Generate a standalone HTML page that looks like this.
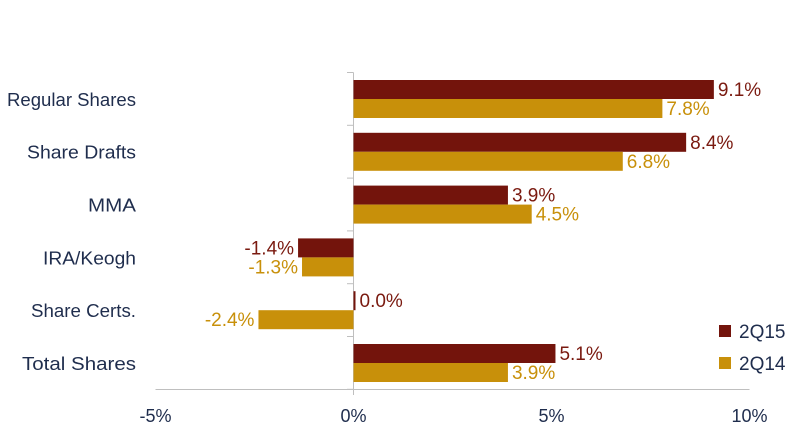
<!DOCTYPE html>
<html><head><meta charset="utf-8"><style>
body{margin:0;background:#fff;}
svg{display:block;font-family:"Liberation Sans",sans-serif;}
</style></head><body>
<svg id="chart" width="800" height="435" xmlns="http://www.w3.org/2000/svg"></svg>
<script>
const categories=["Regular Shares","Share Drafts","MMA","IRA/Keogh","Share Certs.","Total Shares"];
const series2Q15=[9.1,8.4,3.9,-1.4,0.0,5.1];
const series2Q14=[7.8,6.8,4.5,-1.3,-2.4,3.9];
const xTicks=[-5,0,5,10];
const xTickLabels=["-5%","0%","5%","10%"];
const svg=document.getElementById('chart');
const NS="http://www.w3.org/2000/svg";
const x=v=>353.5+v*39.6;
const top0=72.5,band=52.8;
function mk(t,a,txt){const e=document.createElementNS(NS,t);for(const k in a)e.setAttribute(k,a[k]);if(txt!==undefined)e.textContent=txt;svg.appendChild(e);return e;}
let e;
e=mk('line',{x1:x(-5),x2:x(10),y1:389.5,y2:389.5,stroke:'#bfbfbf','stroke-width':1});

e=mk('line',{x1:353.5,x2:353.5,y1:top0,y2:395,stroke:'#bfbfbf','stroke-width':1});

for(let i=0;i<=categories.length;i++){
 e=mk('line',{x1:347,x2:353.5,y1:top0+i*band,y2:top0+i*band,stroke:'#bfbfbf','stroke-width':1});
 
}
xTicks.forEach((t,i)=>{
 e=mk('text',{x:x(t),y:422,'text-anchor':'middle','font-size':18,fill:'#1f2d4d'},xTickLabels[i]);
 
});
const fmt=v=>v.toFixed(1)+'%';
categories.forEach((c,i)=>{
 const y0=top0+i*band;
 e=mk('text',{x:136,y:y0+band/2+7,'text-anchor':'end','font-size':18,fill:'#1f2d4d','textLength':[129,109,48,93,105,114][i],'lengthAdjust':'spacingAndGlyphs'},c);
 
 [[series2Q15[i],'#73140c','#7a1a10',7.5,'bar-2q15'],[series2Q14[i],'#c8900a','#c8900a',26.5,'bar-2q14']].forEach(([v,col,tc,off,nm])=>{
  const xa=Math.min(x(0),x(v)),w=Math.max(Math.abs(x(v)-x(0)),v===0?2:0);
  e=mk('rect',{x:xa,y:y0+off,width:w,height:19,fill:col});
  
  const lx=v>=0?x(v)+(v===0?6:4):x(v)-4;
  e=mk('text',{x:lx,y:y0+off+16,'text-anchor':v>=0?'start':'end','font-size':19,fill:tc},fmt(v));
  
 });
});
[['2Q15','#73140c',331],['2Q14','#c8900a',363]].forEach(([n,c,y])=>{
 e=mk('rect',{x:719,y:y-6,width:12,height:12,fill:c});
 
 e=mk('text',{x:739,y:y+7,'font-size':19,fill:'#1f2d4d'},n);
 
});
</script>
</body></html>
